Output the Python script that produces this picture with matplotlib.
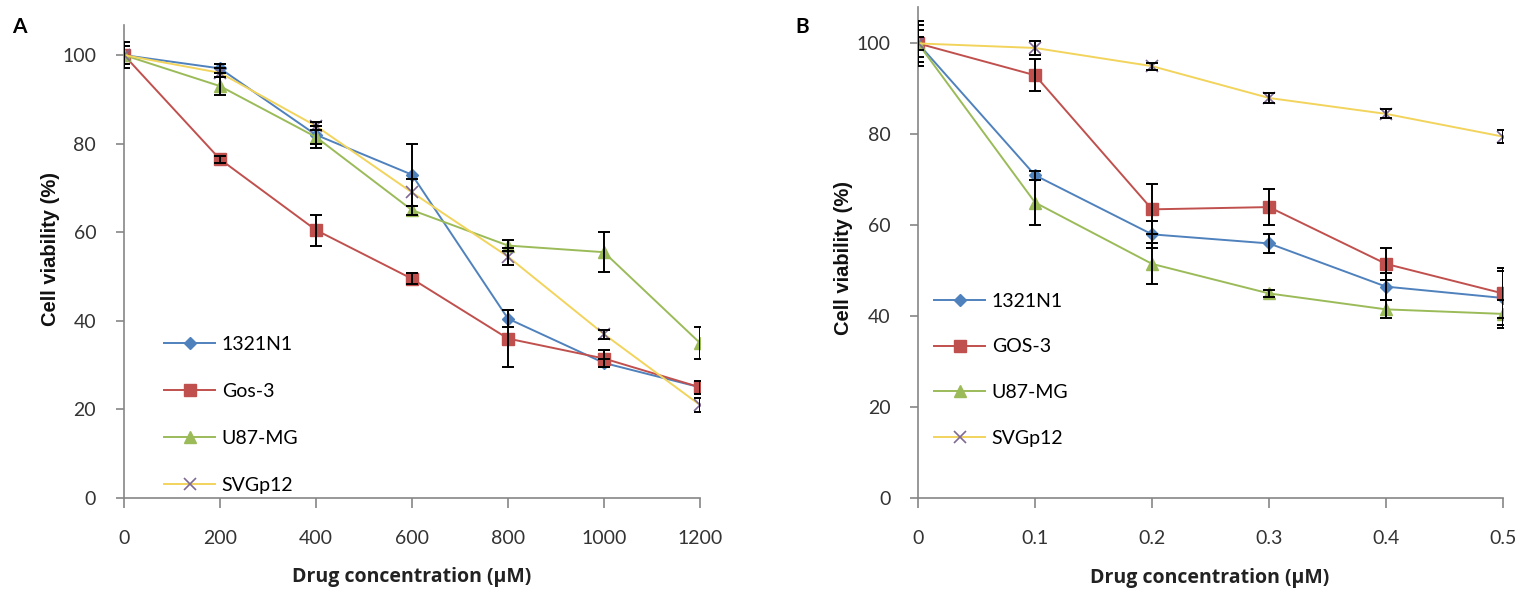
import matplotlib.pyplot as plt

plt.rcParams['font.family'] = ['Lato', 'DejaVu Sans']

SERIES = ["1321N1", "Gos-3", "U87-MG", "SVGp12"]
SERIES_B = ["1321N1", "GOS-3", "U87-MG", "SVGp12"]

# panel A
conc_a = [0, 200, 400, 600, 800, 1000, 1200]
via_a = {
    "1321N1": [100, 97, 82, 73, 40.5, 30.5, 25],
    "Gos-3": [100, 76.5, 60.5, 49.5, 36, 31.5, 25],
    "U87-MG": [100, 93, 81.5, 65, 57, 55.5, 35],
    "SVGp12": [100, 96, 84, 69, 54.5, 37, 21],
}
err_a = {
    "1321N1": [2, 1, 2, 7, 2, 1, 1.5],
    "Gos-3": [2, 0.8, 3.5, 1.2, 6.5, 2, 1.5],
    "U87-MG": [2, 2, 2.5, 1, 1.2, 4.5, 3.5],
    "SVGp12": [3, 1, 1, 3, 2, 1, 1.5],
}

# panel B
conc_b = [0, 0.1, 0.2, 0.3, 0.4, 0.5]
via_b = {
    "1321N1": [100, 71, 58, 56, 46.5, 44],
    "GOS-3": [100, 93, 63.5, 64, 51.5, 45],
    "U87-MG": [100, 65, 51.5, 45, 41.5, 40.5],
    "SVGp12": [100, 99, 95, 88, 84.5, 79.5],
}
err_b = {
    "1321N1": [5, 1, 3, 2, 3, 6],
    "GOS-3": [4, 3.5, 5.5, 4, 3.5, 5.5],
    "U87-MG": [3, 5, 4.5, 0.8, 2, 3],
    "SVGp12": [1.5, 1.5, 0.8, 1, 1, 1.5],
}

STYLES = [
    dict(color="#4F81BD", marker="D", ms=6, mfc="#4F81BD", mec="#4F81BD"),
    dict(color="#C0504D", marker="s", ms=8, mfc="#C0504D", mec="#C0504D"),
    dict(color="#9BBB59", marker="^", ms=8, mfc="#9BBB59", mec="#9BBB59"),
    dict(color="#F2D45C", marker="x", ms=9, mfc="none", mec="#7F6A93", mew=1.2),
]
AXIS_GRAY = "#868686"


def draw(ax, x, vals, errs, names, xticklabels, ylim_top, leg_xy, leg_space):
    for name, key, st in zip(names, vals.keys(), STYLES):
        ax.plot(x, vals[key], lw=1.4, label=name, zorder=2, **st)
        ax.errorbar(x, vals[key], yerr=errs[key], fmt="none", ecolor="black",
                    elinewidth=1.4, capsize=4, capthick=1.4, zorder=3)
    ax.set_xlim(x[0], x[-1])
    ax.set_ylim(0, ylim_top)
    ax.set_yticks([0, 20, 40, 60, 80, 100])
    ax.set_xticks(x)
    ax.set_xticklabels(xticklabels)
    for s in ("top", "right"):
        ax.spines[s].set_visible(False)
    for s in ("left", "bottom"):
        ax.spines[s].set_color(AXIS_GRAY)
        ax.spines[s].set_linewidth(1.2)
    ax.tick_params(axis="x", length=7, width=1.2, color=AXIS_GRAY, pad=16,
                   labelsize=14, labelcolor="#333333")
    ax.tick_params(axis="y", length=6, width=1.2, color=AXIS_GRAY, pad=14,
                   labelsize=14, labelcolor="#333333")
    ax.legend(loc="upper left", bbox_to_anchor=leg_xy, frameon=False,
              fontsize=14, handlelength=2.6, handletextpad=0.35,
              labelspacing=leg_space, borderpad=0, borderaxespad=0)


fig = plt.figure(figsize=(15.23, 5.98), dpi=100)
ax_a = fig.add_axes([0.0814, 0.1672, 0.3782, 0.791])
ax_b = fig.add_axes([0.6028, 0.1672, 0.3841, 0.821])

draw(ax_a, conc_a, via_a, err_a, SERIES, [str(c) for c in conc_a],
     106.8, (0.07, 0.343), 1.55)
draw(ax_b, conc_b, via_b, err_b, SERIES_B,
     ["0", "0.1", "0.2", "0.3", "0.4", "0.5"], 108, (0.028, 0.418), 1.47)

# axis titles placed in figure pixels / size
W, H = 1523, 598
xlab = dict(fontsize=14, fontweight="bold", family="Open Sans",
            color="#222222", ha="center", va="center")
ylab = dict(fontsize=14.5, fontweight="bold", family="Liberation Sans",
            color="#111111", ha="center", va="center", rotation=90)
fig.text(412 / W, 1 - 577 / H, "Drug concentration (μM)", **xlab)
fig.text(1210 / W, 1 - 578 / H, "Drug concentration (μM)", **xlab)
fig.text(50 / W, 1 - 249 / H, "Cell viability (%)", **ylab)
fig.text(843 / W, 1 - 258 / H, "Cell viability (%)", **ylab)

fig.text(0.008, 0.955, "A", fontsize=15, fontweight="bold", va="center")
fig.text(0.522, 0.955, "B", fontsize=15, fontweight="bold", va="center")

fig.savefig("out.png", dpi=100)
